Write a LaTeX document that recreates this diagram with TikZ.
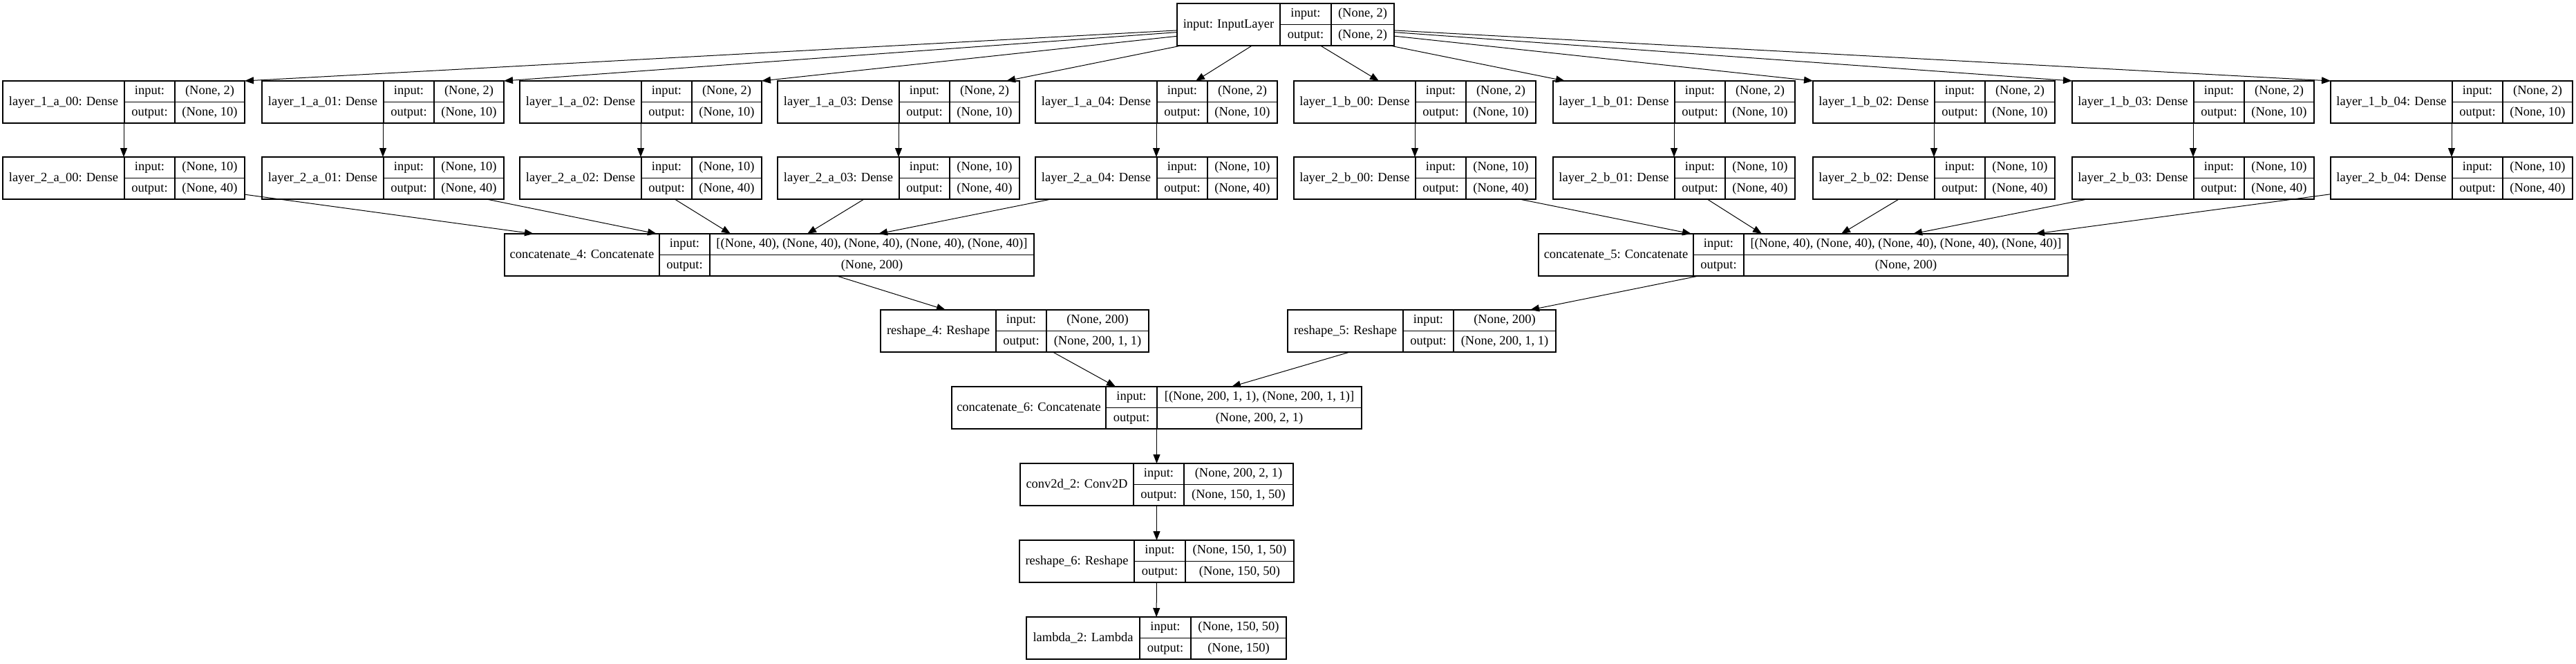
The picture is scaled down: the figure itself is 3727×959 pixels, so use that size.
\documentclass[tikz,border=0pt]{standalone}
\usepackage{fontspec}
\setmainfont{Liberation Serif}
\usetikzlibrary{arrows.meta,calc}
\tikzset{
  kframe/.style={draw=black, line width=1.2pt, inner sep=0pt, outer sep=0pt, anchor=north west, minimum height=61pt},
  kline/.style={draw=black, line width=1.2pt},
  cell/.style={inner sep=0pt, text height=13pt, text depth=4pt, font=\fontsize{18.5pt}{20pt}\selectfont},
  edge/.style={draw=black, line width=1pt, -{Triangle[length=13pt,width=10pt]}},
}
% #1 name, #2 x0, #3 y0, #4 width, #5 first divider, #6 second divider, #7 label, #8 input, #9 output
\newcommand\kbox[9]{%
  \node[kframe, minimum width=#4pt] (#1) at (#2,#3) {};
  \draw[kline] ({#2+#5},{#3}) -- ({#2+#5},{#3+61});
  \draw[kline] ({#2+#6},{#3}) -- ({#2+#6},{#3+61});
  \draw[kline] ({#2+#5},{#3+30.5}) -- ({#2+#4},{#3+30.5});
  \node[cell] (#1-n) at ({#2+#5/2},{#3+30.5}) {#7};
  \node[cell] (#1-il) at ({#2+(#5+#6)/2},{#3+15.25}) {input:};
  \node[cell] (#1-ol) at ({#2+(#5+#6)/2},{#3+45.75}) {output:};
  \node[cell] (#1-iv) at ({#2+(#6+#4)/2},{#3+15.25}) {#8};
  \node[cell] (#1-ov) at ({#2+(#6+#4)/2},{#3+45.75}) {#9};
}
\begin{document}
\begin{tikzpicture}[x=1pt,y=-1pt]
\useasboundingbox (0,0) rectangle (3727,959);

\kbox{input}{1703}{5}{314}{149}{223}{input: InputLayer}{(None, 2)}{(None, 2)}

\foreach \i/\x in {0/4, 1/379, 2/752, 3/1125, 4/1498}{
  \kbox{l1a\i}{\x}{117}{350}{176}{249}{layer\_1\_a\_0\i: Dense}{(None, 2)}{(None, 10)}
  \kbox{l2a\i}{\x}{227}{350}{176}{249}{layer\_2\_a\_0\i: Dense}{(None, 10)}{(None, 40)}
}
\foreach \i/\x in {0/1872, 1/2247, 2/2623, 3/2998, 4/3372}{
  \kbox{l1b\i}{\x}{117}{350}{176}{249}{layer\_1\_b\_0\i: Dense}{(None, 2)}{(None, 10)}
  \kbox{l2b\i}{\x}{227}{350}{176}{249}{layer\_2\_b\_0\i: Dense}{(None, 10)}{(None, 40)}
}

\kbox{c4}{730}{338}{766}{224}{297}{concatenate\_4: Concatenate}{[(None, 40), (None, 40), (None, 40), (None, 40), (None, 40)]}{(None, 200)}
\kbox{c5}{2226}{338}{766}{224}{297}{concatenate\_5: Concatenate}{[(None, 40), (None, 40), (None, 40), (None, 40), (None, 40)]}{(None, 200)}
\kbox{r4}{1274}{448}{388}{167}{240}{reshape\_4: Reshape}{(None, 200)}{(None, 200, 1, 1)}
\kbox{r5}{1863}{448}{388}{167}{240}{reshape\_5: Reshape}{(None, 200)}{(None, 200, 1, 1)}
\kbox{c6}{1377}{559}{593}{223}{297}{concatenate\_6: Concatenate}{[(None, 200, 1, 1), (None, 200, 1, 1)]}{(None, 200, 2, 1)}
\kbox{conv}{1476}{670}{395}{164}{237}{conv2d\_2: Conv2D}{(None, 200, 2, 1)}{(None, 150, 1, 50)}
\kbox{r6}{1475}{781}{397}{166}{240}{reshape\_6: Reshape}{(None, 150, 1, 50)}{(None, 150, 50)}
\kbox{lam}{1485}{892}{376}{164}{238}{lambda\_2: Lambda}{(None, 150, 50)}{(None, 150)}

% input -> first dense layers
\draw[edge] (input) -- (l1a0.north east);
\draw[edge] (input) -- (l1a1.north east);
\draw[edge] (input) -- (l1a2.north east);
\draw[edge] (input) -- ($(l1a3.north east)+(-19,0)$);
\draw[edge] (input) -- ($(l1a4.north west)+(232,0)$);
\draw[edge] (input) -- ($(l1b0.north west)+(123,0)$);
\draw[edge] (input) -- ($(l1b1.north west)+(17,0)$);
\draw[edge] (input) -- (l1b2.north west);
\draw[edge] (input) -- (l1b3.north west);
\draw[edge] (input) -- (l1b4.north west);

% first -> second dense layers
\foreach \i in {0,...,4}{
  \draw[edge] (l1a\i) -- (l2a\i);
  \draw[edge] (l1b\i) -- (l2b\i);
}

% second dense -> concatenates
\draw[edge] (l2a0) -- ($(c4.north west)+(42,0)$);
\draw[edge] (l2a1) -- ($(c4.north west)+(220,0)$);
\draw[edge] (l2a2) -- ($(c4.north west)+(327,0)$);
\draw[edge] (l2a3) -- ($(c4.north west)+(438,0)$);
\draw[edge] (l2a4) -- ($(c4.north west)+(541,0)$);
\draw[edge] (l2b0) -- ($(c5.north west)+(221,0)$);
\draw[edge] (l2b1) -- ($(c5.north west)+(323,0)$);
\draw[edge] (l2b2) -- ($(c5.north west)+(438,0)$);
\draw[edge] (l2b3) -- ($(c5.north west)+(542,0)$);
\draw[edge] (l2b4) -- ($(c5.north west)+(719,0)$);

% lower chain
\draw[edge] (c4) -- ($(r4.north west)+(94,0)$);
\draw[edge] (c5) -- ($(r5.north west)+(351,0)$);
\draw[edge] (r4) -- ($(c6.north west)+(237,0)$);
\draw[edge] (r5) -- ($(c6.north west)+(405,0)$);
\draw[edge] (c6) -- (conv);
\draw[edge] (conv) -- (r6);
\draw[edge] (r6) -- (lam);
\end{tikzpicture}
\end{document}
